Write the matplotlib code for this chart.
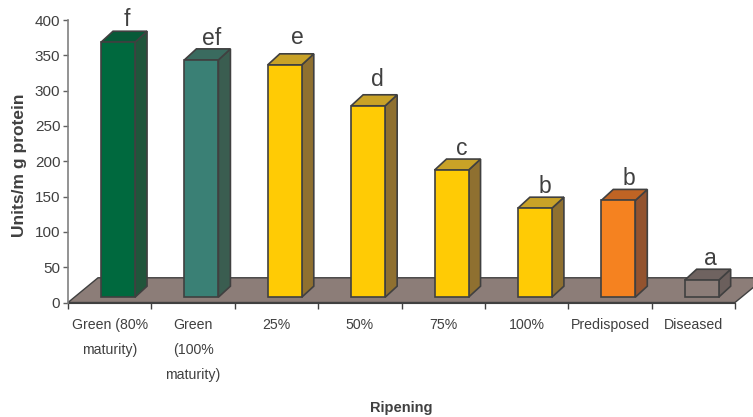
import matplotlib
matplotlib.use('Agg')
from matplotlib import pyplot as plt
from matplotlib.patches import Polygon

categories = ['Green (80%\nmaturity)', 'Green\n(100%\nmaturity)', '25%', '50%', '75%', '100%',
              'Predisposed', 'Diseased']
values = [361, 336, 329, 271, 180, 126, 137, 24]
letters = ['f', 'ef', 'e', 'd', 'c', 'b', 'b', 'a']
front_colors = ['#00693E', '#3A8075', '#FFCB05', '#FFCB05', '#FFCB05', '#FFCB05', '#F58220', '#8C7D78']
side_colors = ['#20553B', '#3A5D50', '#8F7030', '#8F7030', '#8F7030', '#8F7030', '#93532F', '#6B5F5C']
top_colors = ['#075A38', '#3A6B5F', '#C9A227', '#C9A227', '#C9A227', '#C9A227', '#C06424', '#6F6360']
y_ticks = [0, 50, 100, 150, 200, 250, 300, 350, 400]

EDGE = '#404040'
TEXT = '#404040'
FLOOR = '#8C7D78'

BAR_LEFT = 0.396
BAR_WIDTH = 0.408
BAR_BASE = 7.5
DEPTH_X = 0.144
DEPTH_Y = 15.6

# letter placement relative to the back edge of each bar top, in points
letter_gaps = [4, 3, 7, 6, 3, 3, 3, 3]
letter_shifts = [2, 3, 4.5, 2, 3, 3, 3, 2]

plt.rcParams['font.family'] = ['Liberation Sans', 'DejaVu Sans']

fig = plt.figure(figsize=(7.53, 4.17), dpi=100)
ax = fig.add_axes([68 / 753, 1 - 302.5 / 417, 667 / 753, 282.5 / 417])
ax.set_xlim(0, 8)
ax.set_ylim(0, 400)

# floor of the 3d box, runs off the right side of the figure
floor = Polygon([(0, 0), (0.36, 35), (8.36, 35), (8, 0)], closed=True, facecolor=FLOOR,
                edgecolor=EDGE, linewidth=1.0, clip_on=False, zorder=1)
ax.add_patch(floor)

for i, value in enumerate(values):
    x0 = i + BAR_LEFT
    x1 = x0 + BAR_WIDTH
    y0 = BAR_BASE
    y1 = BAR_BASE + value
    ax.bar(x0, value, width=BAR_WIDTH, bottom=BAR_BASE, align='edge', color=front_colors[i],
           edgecolor=EDGE, linewidth=1.2, zorder=3)
    side = Polygon([(x1, y0), (x1 + DEPTH_X, y0 + DEPTH_Y), (x1 + DEPTH_X, y1 + DEPTH_Y), (x1, y1)],
                   closed=True, facecolor=side_colors[i], edgecolor=EDGE, linewidth=1.2, zorder=2)
    top = Polygon([(x0, y1), (x0 + DEPTH_X, y1 + DEPTH_Y), (x1 + DEPTH_X, y1 + DEPTH_Y), (x1, y1)],
                  closed=True, facecolor=top_colors[i], edgecolor=EDGE, linewidth=1.2, zorder=2)
    ax.add_patch(side)
    ax.add_patch(top)
    ax.annotate(letters[i], (x0 + (BAR_WIDTH + DEPTH_X) / 2, y1 + DEPTH_Y),
                xytext=(letter_shifts[i], letter_gaps[i]), textcoords='offset points',
                ha='center', va='baseline', fontsize=16.5, color=TEXT,
                annotation_clip=False, zorder=4)

for name in ['top', 'right']:
    ax.spines[name].set_visible(False)
ax.spines['left'].set_color('#808080')
ax.spines['left'].set_linewidth(1.2)
ax.spines['bottom'].set_color(EDGE)
ax.spines['bottom'].set_zorder(1.5)

ax.set_yticks(y_ticks)
ax.tick_params(axis='y', length=3.5, width=1, color='#606060', pad=2, labelsize=11, labelcolor=TEXT)

# ticks sit between the bars, labels are centred on each slot
ax.set_xticks(range(9))
ax.set_xticklabels([])
ax.tick_params(axis='x', which='major', length=4, width=1, color=EDGE)
ax.set_xticks([i + 0.5 for i in range(8)], labels=categories, minor=True)
ax.tick_params(axis='x', which='minor', length=0, pad=11, labelsize=10.2, labelcolor=TEXT)
for label in ax.get_xticklabels(minor=True):
    label.set_linespacing(2.0)

fig.text(20 / 753, 1 - 165 / 417, 'Units/m g protein', rotation=90, ha='center', va='center',
         fontsize=12.5, fontweight='bold', color=TEXT)
fig.text(401 / 753, 1 - 408 / 417, 'Ripening', ha='center', va='center', fontsize=10.5,
         fontweight='bold', color=TEXT)

fig.savefig('out.png', dpi=100)
